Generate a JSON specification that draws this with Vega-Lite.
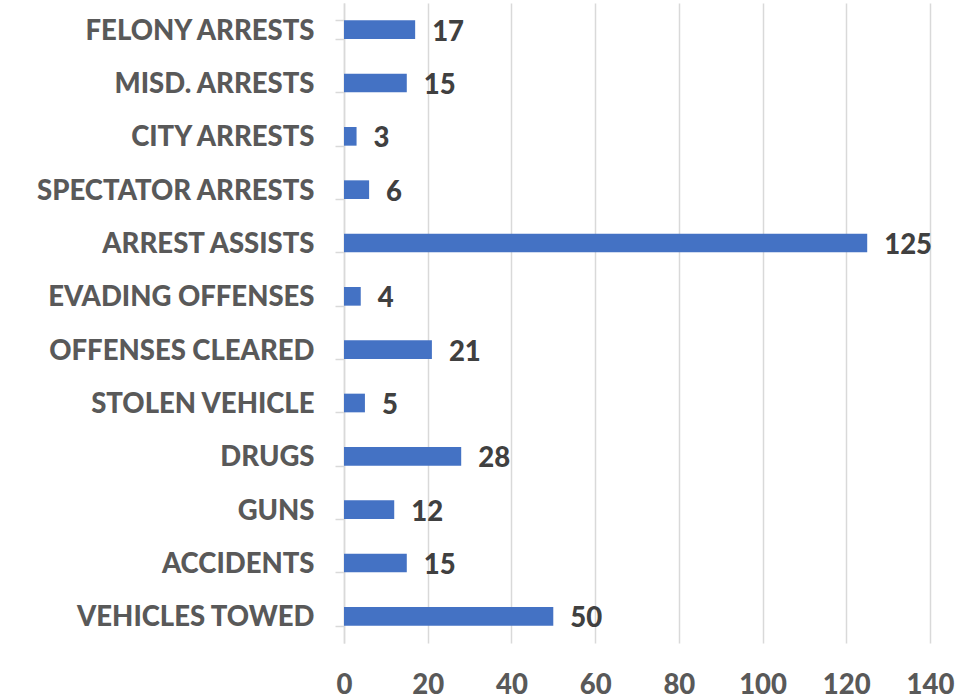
{
  "$schema": "https://vega.github.io/schema/vega-lite/v6.json",
  "autosize": "none",
  "width": 586,
  "height": 640,
  "padding": {"left": 344, "top": 3, "right": 46, "bottom": 57},
  "background": "white",
  "config": {
    "view": {"stroke": null},
    "font": "Lato"
  },
  "data": {
    "values": [
      {"category": "FELONY ARRESTS", "value": 17},
      {"category": "MISD. ARRESTS", "value": 15},
      {"category": "CITY ARRESTS", "value": 3},
      {"category": "SPECTATOR ARRESTS", "value": 6},
      {"category": "ARREST ASSISTS", "value": 125},
      {"category": "EVADING OFFENSES", "value": 4},
      {"category": "OFFENSES CLEARED", "value": 21},
      {"category": "STOLEN VEHICLE", "value": 5},
      {"category": "DRUGS", "value": 28},
      {"category": "GUNS", "value": 12},
      {"category": "ACCIDENTS", "value": 15},
      {"category": "VEHICLES TOWED", "value": 50}
    ]
  },
  "encoding": {
    "y": {
      "field": "category",
      "type": "nominal",
      "sort": null,
      "scale": {"paddingInner": 0.65, "paddingOuter": 0.325},
      "axis": {
        "title": null,
        "domainColor": "#d9d9d9",
        "domainWidth": 1.5,
        "tickColor": "#d9d9d9",
        "tickWidth": 1.5,
        "tickSize": 9,
        "tickBand": "extent",
        "labelFont": "Lato",
        "labelFontWeight": 900,
        "labelFontSize": 27.5,
        "labelColor": "#595959",
        "labelPadding": 21,
        "labelOffset": 1.5,
        "labelLimit": 400
      }
    },
    "x": {
      "field": "value",
      "type": "quantitative",
      "scale": {"domain": [0, 140], "nice": false},
      "axis": {
        "title": null,
        "values": [0, 20, 40, 60, 80, 100, 120, 140],
        "domain": false,
        "ticks": false,
        "gridColor": "#d9d9d9",
        "gridWidth": 1.5,
        "labelFont": "Lato",
        "labelFontWeight": 900,
        "labelFontSize": 27.5,
        "labelColor": "#595959",
        "labelPadding": 28,
        "labelFlush": false
      }
    }
  },
  "layer": [
    {"mark": {"type": "bar", "color": "#4472C4"}},
    {
      "mark": {
        "type": "text",
        "align": "left",
        "baseline": "middle",
        "dx": 17,
        "dy": 3,
        "font": "Lato",
        "fontWeight": 900,
        "fontSize": 27.5,
        "color": "#404040"
      },
      "encoding": {"text": {"field": "value", "type": "quantitative"}}
    }
  ]
}
